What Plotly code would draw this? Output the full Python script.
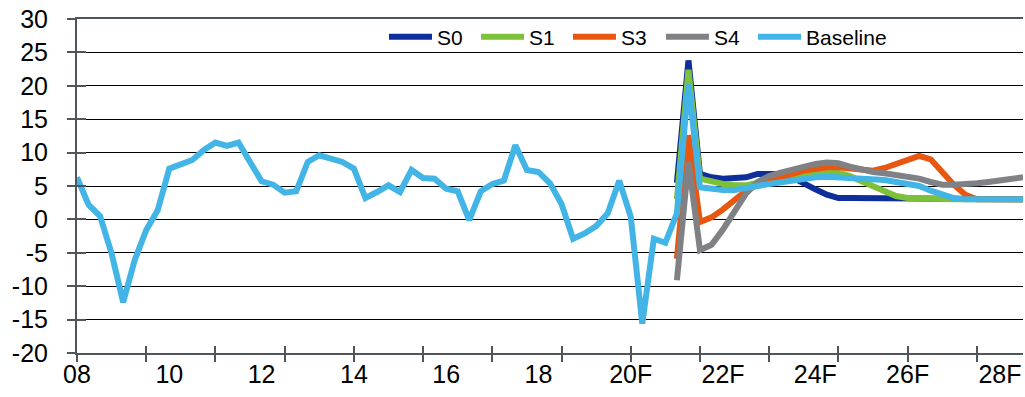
import plotly.graph_objects as go

# Quarterly periods 2008Q1 .. 2028Q3 expressed as decimal years
years = [2008 + q / 4 for q in range(83)]

baseline = [
    6.3, 2.2, 0.5, -5.1, -12.4, -6.1, -1.6, 1.4, 7.6, 8.2,
    8.9, 10.4, 11.5, 11.0, 11.5, 8.6, 5.7, 5.2, 4.0, 4.2,
    8.6, 9.6, 9.1, 8.6, 7.6, 3.2, 4.1, 5.1, 4.1, 7.4,
    6.2, 6.1, 4.6, 4.2, -0.1, 4.2, 5.3, 5.8, 11.1, 7.4,
    7.1, 5.4, 2.3, -2.9, -2.1, -1.0, 0.9, 5.8, 0.4, -15.6,
    -2.9, -3.5, 0.9, 20.3, 4.8, 4.5, 4.4, 4.4, 4.6, 5.0,
    5.3, 5.6, 5.9, 6.2, 6.3, 6.4, 6.3, 6.3, 6.1, 6.0,
    5.9, 5.6, 5.3, 5.0, 4.3, 3.7, 3.2, 3.0, 3.0, 3.0,
    3.0, 3.0, 3.0,
]

# Scenario paths start in 2021Q1 (index 52)
scen_start = 52
s0 = [5.5, 23.8, 6.8, 6.3, 6.1, 6.1, 6.3, 6.8, 6.9, 6.8,
      6.3, 5.3, 4.5, 3.7, 3.2, 3.2, 3.2, 3.2, 3.2, 3.1,
      3.1, 3.1, 3.1, 3.1, 3.0, 3.0, 3.0, 3.0, 3.0, 3.0, 3.0]
s1 = [3.0, 22.4, 6.1, 5.6, 5.3, 5.1, 5.1, 5.5, 5.9, 6.1,
      6.4, 6.7, 7.0, 7.1, 7.0, 6.5, 5.7, 4.9, 4.1, 3.5,
      3.2, 3.1, 3.1, 3.0, 3.0, 3.0, 3.0, 3.0, 3.0, 3.0, 3.0]
s3 = [-5.9, 12.6, -0.4, 0.3, 1.5, 2.9, 4.3, 5.2, 5.8, 6.3,
      6.8, 7.3, 7.6, 7.8, 7.8, 7.7, 7.4, 7.3, 7.7, 8.3,
      8.8, 9.5, 9.0, 7.0, 5.2, 3.7, 3.0, 3.0, 3.0, 3.0, 3.0]
s4 = [-9.1, 8.6, -4.6, -3.8, -1.5, 1.2, 3.9, 5.6, 6.5, 7.0,
      7.5, 8.0, 8.3, 8.5, 8.4, 7.9, 7.4, 7.1, 6.9, 6.7,
      6.4, 6.1, 5.6, 5.2, 5.2, 5.2, 5.4, 5.6, 5.8, 6.0, 6.3]

tick_years = [2008, 2010, 2012, 2014, 2016, 2018, 2020, 2022, 2024, 2026, 2028]
tick_labels = ["08", "10", "12", "14", "16", "18", "20F", "22F", "24F", "26F", "28F"]
y_ticks = [-20, -15, -10, -5, 0, 5, 10, 15, 20, 25, 30]
y_labels = [str(v) for v in y_ticks]

series = [
    ("S0", s0, "#0D2E9B"),
    ("S1", s1, "#7DC13A"),
    ("S3", s3, "#E8560F"),
    ("S4", s4, "#808184"),
]

fig = go.Figure()
scen_years = years[scen_start:]
legend_ids = ["legend", "legend2", "legend3", "legend4", "legend5"]
for k, (name, vals, color) in enumerate(series):
    fig.add_trace(go.Scatter(
        x=scen_years, y=vals, name=name, mode="lines",
        line=dict(color=color, width=6), legend=legend_ids[k],
    ))
fig.add_trace(go.Scatter(
    x=years, y=baseline, name="Baseline", mode="lines",
    line=dict(color="#42B5E6", width=6), legend=legend_ids[4],
))

axis_col = "#50555B"
tick_font = dict(family="Liberation Sans, Arial, sans-serif", size=25, color="#000000")
legend_font = dict(family="Liberation Sans, Arial, sans-serif", size=21, color="#000000")
xr = [years[0], years[-1]]


def legend_box(x):
    return dict(
        orientation="h", x=x, xanchor="left", y=0.946, yanchor="middle",
        font=legend_font, bgcolor="rgba(0,0,0,0)", borderwidth=0,
        itemwidth=43,
    )


fig.update_layout(
    width=1025, height=397,
    margin=dict(l=77, r=2, t=19, b=44),
    paper_bgcolor="white", plot_bgcolor="white",
    showlegend=True,
    legend=legend_box(0.3245),
    legend2=legend_box(0.4218),
    legend3=legend_box(0.5190),
    legend4=legend_box(0.6173),
    legend5=legend_box(0.7146),
    xaxis=dict(
        range=xr, tick0=2008, dtick=1.5, ticks="outside", ticklen=7,
        tickwidth=2, tickcolor=axis_col, showticklabels=False,
        showline=True, linecolor=axis_col, linewidth=2, mirror=True,
        showgrid=False, zeroline=False,
    ),
    xaxis2=dict(
        range=xr, tick0=2008, dtick=1.5, ticks="inside", ticklen=7,
        tickwidth=2, tickcolor=axis_col, showticklabels=False,
        overlaying="x", side="bottom", showline=False, showgrid=False,
        zeroline=False,
    ),
    xaxis3=dict(
        range=xr, tickmode="array", tickvals=tick_years, ticktext=tick_labels,
        ticks="", tickfont=tick_font, ticklabelstandoff=4,
        overlaying="x", side="bottom", showline=False, showgrid=False,
        zeroline=False,
    ),
    yaxis=dict(
        range=[-20, 30], tickmode="array", tickvals=y_ticks, ticktext=y_labels,
        ticks="outside", ticklen=8, tickwidth=2,
        tickcolor=axis_col, tickfont=tick_font, ticklabelstandoff=14,
        showline=True, linecolor=axis_col, linewidth=2,
        showgrid=True, gridcolor="#000000", gridwidth=1.3, zeroline=False,
    ),
    yaxis2=dict(
        range=[-20, 30], tickmode="array", tickvals=y_ticks,
        ticks="inside", ticklen=9, tickwidth=2,
        tickcolor=axis_col, showticklabels=False, overlaying="y",
        side="left", showline=False, showgrid=False, zeroline=False,
    ),
)

# invisible anchors so the overlay axes are rendered
fig.add_trace(go.Scatter(x=xr, y=[None, None], xaxis="x2", yaxis="y2",
                         showlegend=False, hoverinfo="skip"))
fig.add_trace(go.Scatter(x=xr, y=[None, None], xaxis="x3", yaxis="y",
                         showlegend=False, hoverinfo="skip"))

fig.write_html("out.html")
